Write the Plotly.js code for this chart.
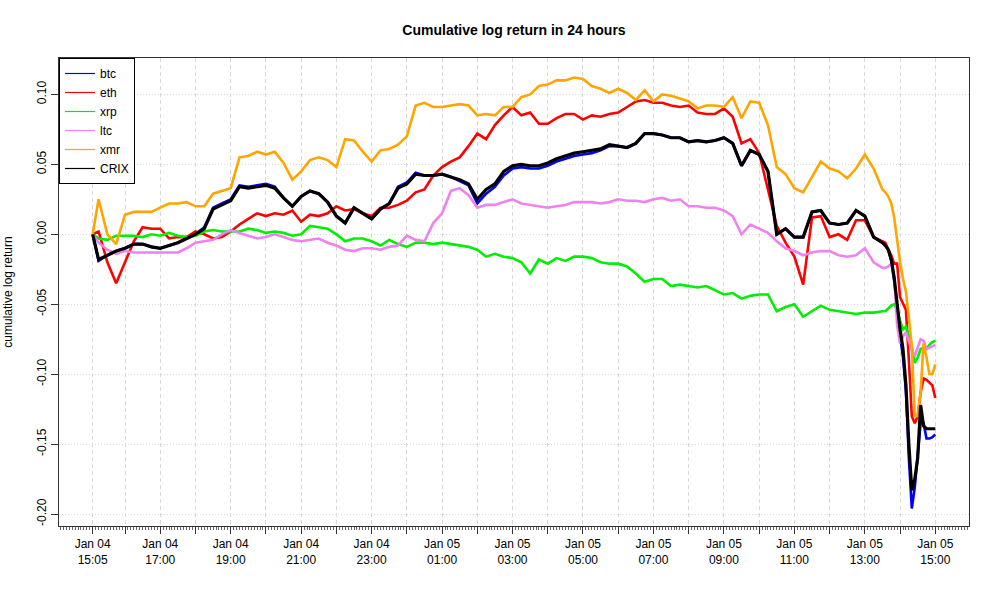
<!DOCTYPE html>
<html>
<head>
<meta charset="utf-8">
<script src="https://cdn.plot.ly/plotly-3.0.1.min.js"></script>
<style>
  html, body { margin: 0; padding: 0; background: #fff; }
  #chart { width: 1000px; height: 600px; }
</style>
</head>
<body>
<div id="chart"></div>
<script>
// sample times (15 min steps, 5 min steps at the end)
const times = [
  '01-04 15:05','01-04 15:15','01-04 15:30','01-04 15:45',
  '01-04 16:00','01-04 16:15','01-04 16:30','01-04 16:45',
  '01-04 17:00','01-04 17:15','01-04 17:30','01-04 17:45',
  '01-04 18:00','01-04 18:15','01-04 18:30','01-04 18:45',
  '01-04 19:00','01-04 19:15','01-04 19:30','01-04 19:45',
  '01-04 20:00','01-04 20:15','01-04 20:30','01-04 20:45',
  '01-04 21:00','01-04 21:15','01-04 21:30','01-04 21:45',
  '01-04 22:00','01-04 22:15','01-04 22:30','01-04 22:45',
  '01-04 23:00','01-04 23:15','01-04 23:30','01-04 23:45',
  '01-05 00:00','01-05 00:15','01-05 00:30','01-05 00:45',
  '01-05 01:00','01-05 01:15','01-05 01:30','01-05 01:45',
  '01-05 02:00','01-05 02:15','01-05 02:30','01-05 02:45',
  '01-05 03:00','01-05 03:15','01-05 03:30','01-05 03:45',
  '01-05 04:00','01-05 04:15','01-05 04:30','01-05 04:45',
  '01-05 05:00','01-05 05:15','01-05 05:30','01-05 05:45',
  '01-05 06:00','01-05 06:15','01-05 06:30','01-05 06:45',
  '01-05 07:00','01-05 07:15','01-05 07:30','01-05 07:45',
  '01-05 08:00','01-05 08:15','01-05 08:30','01-05 08:45',
  '01-05 09:00','01-05 09:15','01-05 09:30','01-05 09:45',
  '01-05 10:00','01-05 10:15','01-05 10:30','01-05 10:45',
  '01-05 11:00','01-05 11:15','01-05 11:30','01-05 11:45',
  '01-05 12:00','01-05 12:15','01-05 12:30','01-05 12:45',
  '01-05 13:00','01-05 13:15','01-05 13:30',
  '01-05 13:35','01-05 13:40','01-05 13:45','01-05 13:50','01-05 13:55',
  '01-05 14:00','01-05 14:05','01-05 14:10','01-05 14:15','01-05 14:20','01-05 14:25',
  '01-05 14:30','01-05 14:35','01-05 14:40','01-05 14:45','01-05 14:50','01-05 14:55',
  '01-05 15:00'
];

const btc = [
  0, -0.019, -0.015, -0.012, -0.010, -0.007, -0.007, -0.009, -0.010, -0.008,
  -0.006, -0.003, 0.000, 0.005, 0.019, 0.022, 0.025, 0.035, 0.034, 0.035,
  0.036, 0.034, 0.026, 0.020, 0.027, 0.031, 0.029, 0.023, 0.013, 0.008,
  0.019, 0.015, 0.011, 0.018, 0.022, 0.034, 0.037, 0.044, 0.042, 0.042,
  0.043, 0.041, 0.038, 0.035, 0.022, 0.029, 0.034, 0.042, 0.047, 0.048,
  0.047, 0.047, 0.049, 0.052, 0.054, 0.056, 0.057, 0.058, 0.060, 0.063,
  0.063, 0.062, 0.065, 0.072, 0.072, 0.071, 0.069, 0.069, 0.066, 0.067,
  0.066, 0.067, 0.069, 0.065, 0.049, 0.060, 0.057, 0.045, 0.000, 0.004,
  -0.002, -0.002, 0.016, 0.017, 0.008, 0.007, 0.008, 0.017, 0.013, -0.002,
  -0.006, -0.008, -0.011, -0.019, -0.033, -0.055, -0.072, -0.088, -0.112, -0.160,
  -0.196, -0.181, -0.160, -0.135, -0.135, -0.146, -0.146, -0.145, -0.143
];

const eth = [
  0, 0.002, -0.020, -0.035, -0.020, -0.005, 0.005, 0.004, 0.004, -0.003,
  -0.002, -0.002, 0.002, 0.000, -0.003, -0.002, 0.002, 0.007, 0.011, 0.015,
  0.013, 0.015, 0.014, 0.017, 0.009, 0.014, 0.013, 0.015, 0.020, 0.017,
  0.018, 0.015, 0.013, 0.019, 0.019, 0.021, 0.024, 0.030, 0.032, 0.042,
  0.048, 0.052, 0.055, 0.063, 0.072, 0.068, 0.078, 0.085, 0.091, 0.085,
  0.087, 0.079, 0.079, 0.083, 0.086, 0.086, 0.082, 0.085, 0.084, 0.086,
  0.087, 0.091, 0.095, 0.096, 0.094, 0.094, 0.092, 0.091, 0.092, 0.087,
  0.086, 0.086, 0.090, 0.084, 0.065, 0.068, 0.058, 0.032, 0.006, -0.006,
  -0.016, -0.036, 0.012, 0.013, -0.002, 0.000, -0.004, 0.010, 0.010, -0.002,
  -0.005, -0.006, -0.011, -0.015, -0.021, -0.021, -0.045, -0.050, -0.054, -0.090,
  -0.130, -0.135, -0.130, -0.113, -0.103, -0.104, -0.106, -0.108, -0.117
];

const xrp = [
  0, -0.003, -0.004, -0.001, -0.001, -0.001, -0.002, 0.000, -0.001, 0.001,
  -0.001, -0.002, -0.001, 0.002, 0.003, 0.002, 0.002, 0.002, 0.004, 0.003,
  0.001, 0.002, 0.001, -0.001, 0.000, 0.006, 0.005, 0.004, 0.000, -0.005,
  -0.003, -0.003, -0.005, -0.008, -0.004, -0.007, -0.009, -0.006, -0.006, -0.007,
  -0.006, -0.007, -0.008, -0.009, -0.011, -0.016, -0.014, -0.016, -0.017, -0.020,
  -0.028, -0.018, -0.021, -0.017, -0.019, -0.016, -0.016, -0.017, -0.020, -0.021,
  -0.021, -0.023, -0.028, -0.034, -0.032, -0.032, -0.037, -0.036, -0.037, -0.038,
  -0.037, -0.040, -0.043, -0.042, -0.046, -0.044, -0.043, -0.043, -0.055, -0.052,
  -0.050, -0.059, -0.055, -0.051, -0.054, -0.055, -0.056, -0.057, -0.056, -0.056,
  -0.055, -0.055, -0.053, -0.051, -0.050, -0.054, -0.062, -0.068, -0.066, -0.073,
  -0.080, -0.092, -0.088, -0.082, -0.081, -0.082, -0.079, -0.077, -0.076
];

const ltc = [
  0, -0.006, -0.011, -0.014, -0.012, -0.013, -0.013, -0.013, -0.013, -0.013,
  -0.013, -0.010, -0.006, -0.005, -0.004, 0.000, 0.003, 0.001, -0.001, -0.003,
  -0.002, 0.000, -0.002, -0.004, -0.005, -0.004, -0.003, -0.006, -0.008, -0.011,
  -0.012, -0.010, -0.010, -0.011, -0.009, -0.008, -0.001, -0.004, -0.005, 0.008,
  0.015, 0.031, 0.033, 0.028, 0.019, 0.021, 0.021, 0.023, 0.025, 0.022,
  0.021, 0.020, 0.019, 0.020, 0.021, 0.023, 0.023, 0.023, 0.022, 0.023,
  0.025, 0.024, 0.024, 0.023, 0.025, 0.026, 0.024, 0.025, 0.020, 0.020,
  0.019, 0.019, 0.017, 0.013, 0.000, 0.007, 0.004, 0.001, -0.005, -0.010,
  -0.012, -0.015, -0.013, -0.012, -0.012, -0.015, -0.016, -0.015, -0.010, -0.020,
  -0.024, -0.024, -0.023, -0.021, -0.030, -0.065, -0.078, -0.073, -0.070, -0.076,
  -0.083, -0.087, -0.081, -0.075, -0.076, -0.082, -0.081, -0.080, -0.079
];

const xmr = [
  0, 0.025, 0.000, -0.007, 0.014, 0.016, 0.016, 0.016, 0.019, 0.022,
  0.022, 0.023, 0.020, 0.020, 0.029, 0.031, 0.033, 0.055, 0.056, 0.059,
  0.057, 0.059, 0.051, 0.039, 0.045, 0.053, 0.055, 0.053, 0.048, 0.068,
  0.067, 0.059, 0.052, 0.060, 0.061, 0.064, 0.070, 0.092, 0.094, 0.091,
  0.091, 0.092, 0.093, 0.092, 0.085, 0.086, 0.085, 0.091, 0.091, 0.098,
  0.100, 0.106, 0.107, 0.110, 0.110, 0.112, 0.111, 0.106, 0.104, 0.101,
  0.104, 0.101, 0.096, 0.103, 0.095, 0.100, 0.099, 0.097, 0.095, 0.090,
  0.092, 0.092, 0.091, 0.098, 0.083, 0.095, 0.094, 0.078, 0.048, 0.043,
  0.033, 0.030, 0.041, 0.052, 0.047, 0.045, 0.040, 0.047, 0.057, 0.047,
  0.032, 0.030, 0.027, 0.022, 0.012, -0.005, -0.020, -0.032, -0.041, -0.060,
  -0.080, -0.130, -0.130, -0.113, -0.078, -0.088, -0.100, -0.100, -0.093
];

const crix = [
  0, -0.018, -0.015, -0.012, -0.010, -0.007, -0.007, -0.009, -0.010, -0.008,
  -0.006, -0.003, 0.000, 0.004, 0.018, 0.021, 0.024, 0.034, 0.033, 0.034,
  0.035, 0.033, 0.026, 0.020, 0.027, 0.031, 0.029, 0.023, 0.013, 0.008,
  0.019, 0.015, 0.011, 0.018, 0.022, 0.033, 0.036, 0.043, 0.042, 0.042,
  0.043, 0.041, 0.039, 0.036, 0.025, 0.032, 0.036, 0.045, 0.049, 0.050,
  0.049, 0.049, 0.051, 0.054, 0.056, 0.058, 0.059, 0.060, 0.061, 0.064,
  0.063, 0.062, 0.065, 0.072, 0.072, 0.071, 0.069, 0.069, 0.066, 0.067,
  0.066, 0.067, 0.069, 0.065, 0.049, 0.060, 0.057, 0.045, 0.000, 0.004,
  -0.002, -0.002, 0.016, 0.017, 0.008, 0.007, 0.008, 0.017, 0.013, -0.002,
  -0.006, -0.008, -0.011, -0.018, -0.031, -0.050, -0.068, -0.082, -0.108, -0.150,
  -0.183, -0.175, -0.160, -0.122, -0.137, -0.139, -0.139, -0.139, -0.139
];

const names = ['btc', 'eth', 'xrp', 'ltc', 'xmr', 'CRIX'];
const colors = ['#0000ff', '#ff0000', '#00ee00', '#ee82ee', '#ffa500', '#000000'];
const widths = [2.6, 2.6, 2.6, 2.6, 2.6, 3.2];
const series = [btc, eth, xrp, ltc, xmr, crix];

const yTicks = [-0.20, -0.15, -0.10, -0.05, 0.00, 0.05, 0.10];

const x = times.map(t => '2018-' + t);

function stamp(ms) {
    const d = new Date(ms);
    const p = n => String(n).padStart(2, '0');
    return d.getUTCFullYear() + '-' + p(d.getUTCMonth() + 1) + '-' + p(d.getUTCDate()) +
        ' ' + p(d.getUTCHours()) + ':' + p(d.getUTCMinutes());
}

// hourly ticks (labelled every 2 hours) plus the start time
const t0 = Date.UTC(2018, 0, 4, 15, 5);
const t1 = Date.UTC(2018, 0, 5, 15, 0);
let tickVals = [stamp(t0)];
let tickText = ['Jan 04<br>15:05'];
for (let t = Date.UTC(2018, 0, 4, 16, 0); t <= t1; t += 3600000) {
    const d = new Date(t);
    tickVals.push(stamp(t));
    const h = d.getUTCHours();
    if (h % 2 === 1) {
        tickText.push('Jan 0' + d.getUTCDate() + '<br>' + String(h).padStart(2, '0') + ':00');
    } else {
        tickText.push('');
    }
}

let traces = [];
for (let i = 0; i < names.length; i++) {
    traces.push({
        x: x, y: series[i], mode: 'lines', type: 'scatter', name: names[i],
        line: {color: colors[i], width: widths[i]}, showlegend: false,
        hoverinfo: 'skip'
    });
}
// thin legend keys like the original
for (let i = 0; i < names.length; i++) {
    traces.push({
        x: [null], y: [null], mode: 'lines', type: 'scatter', name: names[i],
        line: {color: colors[i], width: 1.2}, showlegend: true
    });
}

const layout = {
    width: 1000, height: 600,
    margin: {l: 59, r: 31, t: 58, b: 74},
    paper_bgcolor: '#fff', plot_bgcolor: '#fff',
    font: {family: 'Liberation Sans, Arial, sans-serif', size: 12, color: '#000'},
    title: {
        text: '<b>Cumulative log return in 24 hours</b>',
        font: {size: 14}, x: 0.5, xref: 'paper', y: 0.95, yref: 'container', yanchor: 'middle'
    },
    xaxis: {
        type: 'date',
        range: ['2018-01-04 14:07:36', '2018-01-05 15:57:24'],
        tickmode: 'array', tickvals: tickVals, ticktext: tickText,
        ticks: 'outside', ticklen: 7, tickcolor: '#333',
        showline: true, mirror: true, linecolor: '#333', linewidth: 1,
        showgrid: true, gridcolor: '#d8d8d8', griddash: '4px,3px', gridwidth: 1,
        zeroline: false,
        minor: {tick0: stamp(t0), dtick: 300000, ticks: 'outside', ticklen: 3,
                tickcolor: '#666', tickwidth: 1, showgrid: false}
    },
    yaxis: {
        range: [-0.2085, 0.126],
        tickmode: 'array', tickvals: yTicks, ticktext: yTicks.map(v => v.toFixed(2)),
        tickangle: -90,
        ticks: 'outside', ticklen: 7, tickcolor: '#333',
        showline: true, mirror: true, linecolor: '#333', linewidth: 1,
        showgrid: true, gridcolor: '#dcdcdc', griddash: '1px,2px', gridwidth: 1,
        zeroline: false,
        title: {text: 'cumulative log return', font: {size: 12}, standoff: 20}
    },
    legend: {
        x: 0, y: 1, xanchor: 'left', yanchor: 'top',
        bordercolor: '#000', borderwidth: 1, bgcolor: '#fff',
        font: {size: 12}, itemwidth: 30, tracegroupgap: 0
    }
};

Plotly.newPlot('chart', traces, layout, {displayModeBar: false, staticPlot: true});
</script>
</body>
</html>
